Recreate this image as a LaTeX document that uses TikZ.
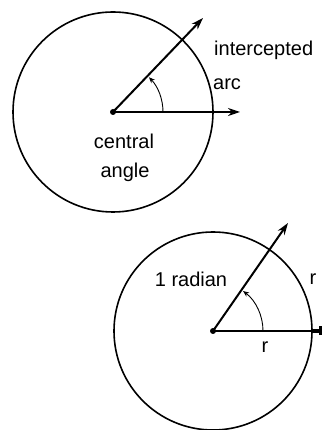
\documentclass[tikz,border=0pt]{standalone}
\usepackage{fontspec}
\setmainfont{Liberation Sans}
\usepackage{tikz}
\usetikzlibrary{arrows.meta}

\begin{document}
\begin{tikzpicture}[x=1pt,y=1pt,>={Stealth[length=12pt,width=8pt]}, every node/.style={font=\fontsize{20}{22}\selectfont,inner sep=0pt}]
        \useasboundingbox (0,0) rectangle (325,430);
        % top circle
        \coordinate (o1) at (113,318);
        \coordinate (t1) at (203,412);
        \coordinate (h1) at (240,318);
        \draw[line width=1.6pt] (o1) circle[radius=100];
        \fill (o1) circle[radius=3];
        \draw[->,line width=2pt] (o1) -- (t1);
        \draw[->,line width=1.3pt] (o1) -- (h1);
        \draw[->,line width=0.9pt,>={Stealth[length=6pt,width=5pt]}] ([shift={(0:50)}]o1) arc[start angle=0,end angle=44,radius=50];
        \node[anchor=west] (icpt) at (214,380) {intercepted};
        \node[anchor=west] (arc1) at (213,346) {arc};
        \node (cntr) at (124,289) {central};
        \node (angl) at (125,258) {angle};
        % bottom circle
        \coordinate (o2) at (213,99);
        \coordinate (t2) at (288,207);
        \coordinate (rim) at (311,99);
        \coordinate (h2) at (322,99);
        \draw[line width=1.6pt] (o2) circle[radius=99];
        \fill (o2) circle[radius=3];
        \draw[->,line width=2pt] (o2) -- (t2);
        \draw[line width=1.3pt] (o2) -- (rim);
        \draw[-{Bar[width=9pt]},line width=3.5pt] (rim) -- (h2);
        \draw[->,line width=0.9pt,>={Stealth[length=6pt,width=5pt]}] ([shift={(0:50)}]o2) arc[start angle=0,end angle=53,radius=50];
        \node (rad) at (191,151) {1 radian};
        \node (rarc) at (313,151) {r};
        \node (rlen) at (265,83) {r};
      \end{tikzpicture}
\end{document}
